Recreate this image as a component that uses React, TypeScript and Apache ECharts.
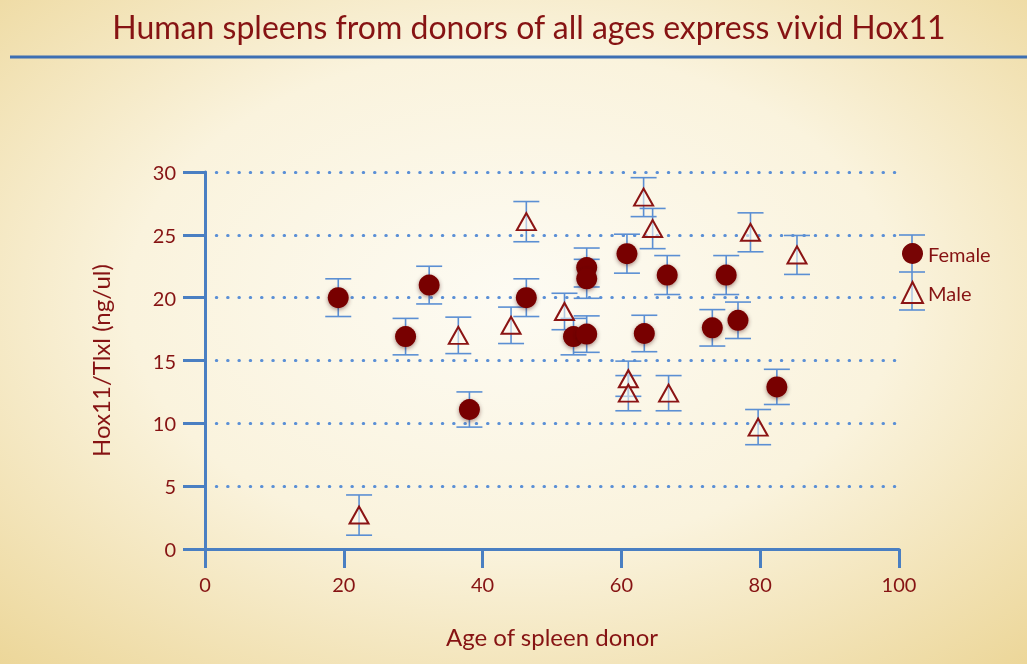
import React, { useEffect, useRef } from "react";
import * as echarts from "echarts";

// ---- data ----
const xTicks = [0, 20, 40, 60, 80, 100];
const yTicks = [0, 5, 10, 15, 20, 25, 30];

const femaleAge = [19.2, 28.9, 32.3, 38.1, 46.3, 53.1, 55.0, 55.0, 55.0, 60.8, 63.3, 66.6, 73.1, 75.1, 76.8, 82.4];
const femaleValue = [20.0, 16.9, 21.0, 11.1, 20.0, 16.9, 17.1, 22.4, 21.5, 23.5, 17.15, 21.8, 17.6, 21.8, 18.2, 12.9];
const femaleErr = [1.5, 1.45, 1.5, 1.4, 1.5, 1.45, 1.45, 1.55, 1.55, 1.55, 1.45, 1.55, 1.45, 1.55, 1.45, 1.4];

const maleAge = [22.2, 36.5, 44.1, 46.3, 51.8, 61.0, 61.0, 63.2, 64.5, 66.8, 78.6, 79.7, 85.3];
const maleValue = [2.7, 17.0, 17.8, 26.05, 18.9, 13.55, 12.4, 28.0, 25.5, 12.4, 25.2, 9.7, 23.4];
const maleErr = [1.6, 1.45, 1.45, 1.6, 1.45, 1.4, 1.4, 1.55, 1.6, 1.4, 1.55, 1.4, 1.55];

const TITLE = "Human spleens from donors of all ages express vivid Hox11";
const X_NAME = "Age of spleen donor";
const Y_NAME = "Hox11/Tlxl (ng/ul)";

const RED = "#861313";
const DOT = "#780505";
const AXIS = "#4a7fc2";
const GRID = "#5a8fd6";
const BAR = "#5b8fd3";
const FONT = "Lato, 'Open Sans', sans-serif";

export default function App() {
  const ref = useRef<HTMLDivElement>(null);

  useEffect(() => {
    const chart = echarts.init(ref.current!, null, { renderer: "svg" });

    const errorRender = (_params: any, api: any) => {
      const x = api.value(0);
      const y = api.value(1);
      const e = api.value(2);
      const hi = api.coord([x, y + e]);
      const lo = api.coord([x, y - e]);
      const w = 13;
      const style = { stroke: BAR, lineWidth: 1.6, fill: null };
      return {
        type: "group",
        children: [
          { type: "line", shape: { x1: hi[0], y1: hi[1], x2: lo[0], y2: lo[1] }, style },
          { type: "line", shape: { x1: hi[0] - w, y1: hi[1], x2: hi[0] + w, y2: hi[1] }, style },
          { type: "line", shape: { x1: lo[0] - w, y1: lo[1], x2: lo[0] + w, y2: lo[1] }, style },
        ],
      };
    };

    const femaleData = femaleAge.map((a, i) => [a, femaleValue[i], femaleErr[i]]);
    const maleData = maleAge.map((a, i) => [a, maleValue[i], maleErr[i]]);

    const legStyle = { stroke: BAR, lineWidth: 1.6 };

    const option: any = {
      animation: false,
      title: {
        text: TITLE,
        left: 524,
        textAlign: "center",
        top: 5,
        textStyle: { color: RED, fontSize: 32, fontWeight: "normal", fontFamily: FONT },
      },
      graphic: [
        {
          type: "rect",
          z: -100,
          silent: true,
          shape: { x: 0, y: 0, width: 1027, height: 664 },
          style: {
            fill: {
              type: "radial",
              x: 0.5,
              y: 0.45,
              r: 0.75,
              colorStops: [
                { offset: 0, color: "#fdfbf3" },
                { offset: 0.5, color: "#faf3dd" },
                { offset: 1, color: "#ecd698" },
              ],
            },
          },
        },
        {
          type: "line",
          z: 5,
          silent: true,
          shape: { x1: 10, y1: 57, x2: 1027, y2: 57 },
          style: { stroke: "#3d6fb3", lineWidth: 3 },
        },
        {
          type: "group",
          z: 1,
          silent: true,
          children: [
            { type: "line", shape: { x1: 912, y1: 235, x2: 912, y2: 310 }, style: legStyle },
            { type: "line", shape: { x1: 899, y1: 235, x2: 925, y2: 235 }, style: legStyle },
            { type: "line", shape: { x1: 899, y1: 272, x2: 925, y2: 272 }, style: legStyle },
            { type: "line", shape: { x1: 899, y1: 310, x2: 925, y2: 310 }, style: legStyle },
          ],
        },
      ],
      legend: {
        orient: "vertical",
        left: 896,
        top: 238,
        padding: 5,
        itemWidth: 21,
        itemHeight: 21,
        itemGap: 17,
        data: ["Female", "Male"],
        textStyle: { color: RED, fontSize: 20, fontFamily: FONT },
      },
      grid: { left: 205, top: 172, width: 694, height: 377, containLabel: false },
      xAxis: {
        type: "value",
        min: 0,
        max: 100,
        interval: 20,
        name: X_NAME,
        nameLocation: "middle",
        nameGap: 75,
        nameTextStyle: { color: RED, fontSize: 24, fontFamily: FONT },
        axisLine: { show: true, lineStyle: { color: AXIS, width: 3 } },
        axisTick: { show: true, length: 19, lineStyle: { color: AXIS, width: 3 } },
        axisLabel: {
          color: RED,
          fontSize: 20,
          fontFamily: FONT,
          margin: 25,
          formatter: (v: number) => (xTicks.includes(v) ? String(v) : ""),
        },
        splitLine: { show: false },
      },
      yAxis: {
        type: "value",
        min: 0,
        max: 30,
        interval: 5,
        name: Y_NAME,
        nameLocation: "middle",
        nameGap: 93,
        nameTextStyle: { color: RED, fontSize: 24, fontFamily: FONT },
        axisLine: { show: true, lineStyle: { color: AXIS, width: 3 } },
        axisTick: { show: true, length: 22, lineStyle: { color: AXIS, width: 3 } },
        axisLabel: {
          color: RED,
          fontSize: 20,
          fontFamily: FONT,
          margin: 29,
          formatter: (v: number) => (yTicks.includes(v) ? String(v) : ""),
        },
        splitLine: {
          show: true,
          lineStyle: { color: GRID, width: 3, type: [0.5, 10.8], cap: "round" },
        },
      },
      series: [
        {
          name: "Female error",
          type: "custom",
          renderItem: errorRender,
          encode: { x: 0, y: 1 },
          data: femaleData,
          z: 1,
          silent: true,
        },
        {
          name: "Male error",
          type: "custom",
          renderItem: errorRender,
          encode: { x: 0, y: 1 },
          data: maleData,
          z: 1,
          silent: true,
        },
        {
          name: "Female",
          type: "scatter",
          symbol: "circle",
          symbolSize: 21,
          data: femaleData.map((d) => [d[0], d[1]]),
          itemStyle: {
            color: DOT,
            opacity: 1,
            shadowBlur: 4,
            shadowColor: "rgba(60,0,0,0.45)",
            shadowOffsetY: 1.5,
          },
          z: 4,
        },
        {
          name: "Male",
          type: "scatter",
          symbol: "triangle",
          symbolSize: [19, 17],
          data: maleData.map((d) => [d[0], d[1]]),
          itemStyle: {
            color: "rgba(253,250,240,0.55)",
            borderColor: "#8b1414",
            borderWidth: 2,
            opacity: 1,
          },
          z: 4,
        },
      ],
    };

    chart.setOption(option);
    return () => chart.dispose();
  }, []);

  return (
    <div
      ref={ref}
      style={{ position: "fixed", left: 0, top: 0, width: 1027, height: 664 }}
    />
  );
}
